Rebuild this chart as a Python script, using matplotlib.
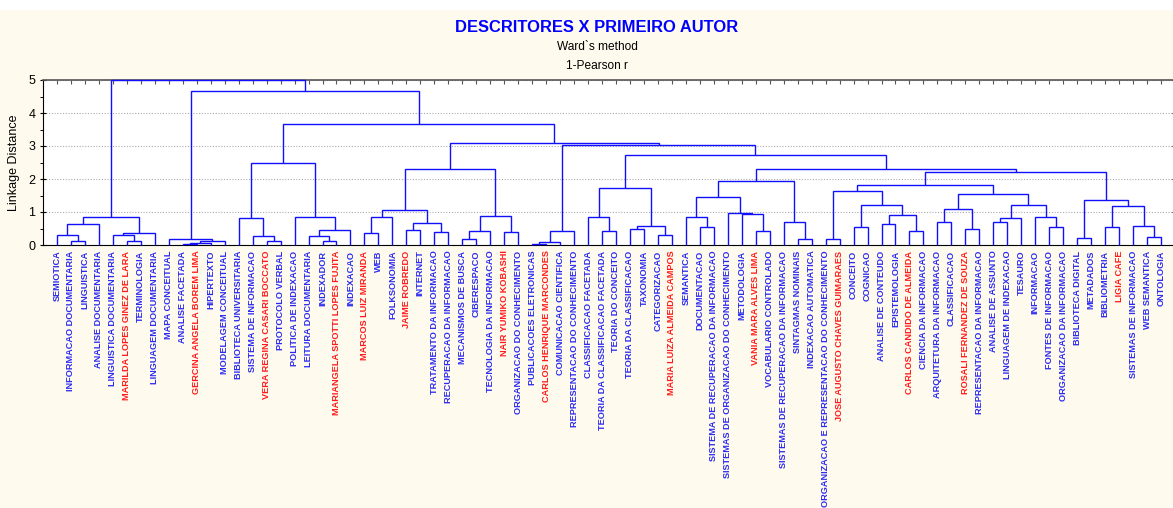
import matplotlib
matplotlib.use("Agg")
import matplotlib.pyplot as plt
from matplotlib.patches import Rectangle
from matplotlib.ticker import MultipleLocator

# ---------------- data ----------------
leaf_labels = [
    "SEMIOTICA", "INFORMACAO DOCUMENTARIA", "LINGUISTICA", "ANALISE DOCUMENTARIA",
    "LINGUISTICA DOCUMENTARIA", "MARILDA LOPES GINEZ DE LARA", "TERMINOLOGIA",
    "LINGUAGEM DOCUMENTARIA", "MAPA CONCEITUAL", "ANALISE FACETADA",
    "GERCINA ANGELA BOREM LIMA", "HIPERTEXTO", "MODELAGEM CONCEITUAL",
    "BIBLIOTECA UNIVERSITARIA", "SISTEMA DE INFORMACAO", "VERA REGINA CASARI BOCCATO",
    "PROTOCOLO VERBAL", "POLITICA DE INDEXACAO", "LEITURA DOCUMENTARIA", "INDEXADOR",
    "MARIANGELA SPOTTI LOPES FUJITA", "INDEXACAO", "MARCOS LUIZ MIRANDA", "WEB",
    "FOLKSONOMIA", "JAIME ROBREDO", "INTERNET", "TRATAMENTO DA INFORMACAO",
    "RECUPERACAO DA INFORMACAO", "MECANISMOS DE BUSCA", "CIBERESPACO",
    "TECNOLOGIA DA INFORMACAO", "NAIR YUMIKO KOBASHI", "ORGANIZACAO DO CONHECIMENTO",
    "PUBLICACOES ELETRONICAS", "CARLOS HENRIQUE MARCONDES", "COMUNICACAO CIENTIFICA",
    "REPRESENTACAO DO CONHECIMENTO", "CLASSIFICACAO FACETADA",
    "TEORIA DA CLASSIFICACAO FACETADA", "TEORIA DO CONCEITO", "TEORIA DA CLASSIFICACAO",
    "TAXONOMIA", "CATEGORIZACAO", "MARIA LUIZA ALMEIDA CAMPOS", "SEMANTICA",
    "DOCUMENTACAO", "SISTEMA DE RECUPERACAO DA INFORMACAO",
    "SISTEMAS DE ORGANIZACAO DO CONHECIMENTO", "METODOLOGIA", "VANIA MARA ALVES LIMA",
    "VOCABULARIO CONTROLADO", "SISTEMAS DE RECUPERACAO DA INFORMACAO",
    "SINTAGMAS NOMINAIS", "INDEXACAO AUTOMATICA",
    "ORGANIZACAO E REPRESENTACAO DO CONHECIMENTO", "JOSE AUGUSTO CHAVES GUIMARAES",
    "CONCEITO", "COGNICAO", "ANALISE DE CONTEUDO", "EPISTEMOLOGIA",
    "CARLOS CANDIDO DE ALMEIDA", "CIENCIA DA INFORMACAO", "ARQUITETURA DA INFORMACAO",
    "CLASSIFICACAO", "ROSALI FERNANDEZ DE SOUZA", "REPRESENTACAO DA INFORMACAO",
    "ANALISE DE ASSUNTO", "LINGUAGEM DE INDEXACAO", "TESAURO", "INFORMACAO",
    "FONTES DE INFORMACAO", "ORGANIZACAO DA INFORMACAO", "BIBLIOTECA DIGITAL",
    "METADADOS", "BIBLIOMETRIA", "LIGIA CAFE", "SISTEMAS DE INFORMACAO",
    "WEB SEMANTICA", "ONTOLOGIA",
]

authors = [
    "MARILDA LOPES GINEZ DE LARA", "GERCINA ANGELA BOREM LIMA",
    "VERA REGINA CASARI BOCCATO", "MARIANGELA SPOTTI LOPES FUJITA",
    "MARCOS LUIZ MIRANDA", "JAIME ROBREDO", "NAIR YUMIKO KOBASHI",
    "CARLOS HENRIQUE MARCONDES", "MARIA LUIZA ALMEIDA CAMPOS", "VANIA MARA ALVES LIMA",
    "JOSE AUGUSTO CHAVES GUIMARAES", "CARLOS CANDIDO DE ALMEIDA",
    "ROSALI FERNANDEZ DE SOUZA", "LIGIA CAFE",
]

# linkage: (left node, right node, linkage distance); leaves 0..79, merges 80..
merges = [
    (1, 2, 0.13), (0, 80, 0.30), (81, 3, 0.64), (5, 6, 0.13), (4, 83, 0.30),
    (84, 7, 0.35), (82, 85, 0.84),
    (9, 10, 0.03), (87, 11, 0.06), (88, 12, 0.13), (8, 89, 0.18),
    (15, 16, 0.13), (14, 91, 0.27), (13, 92, 0.81),
    (19, 20, 0.13), (18, 94, 0.27), (95, 21, 0.46), (17, 96, 0.86), (93, 97, 2.48),
    (22, 23, 0.35), (99, 24, 0.86), (25, 26, 0.46), (27, 28, 0.38), (101, 102, 0.66),
    (100, 103, 1.05),
    (29, 30, 0.17), (105, 31, 0.42), (32, 33, 0.38), (106, 107, 0.88), (104, 108, 2.31),
    (34, 35, 0.03), (110, 36, 0.09), (111, 37, 0.42),
    (39, 40, 0.42), (38, 113, 0.84), (41, 42, 0.49), (43, 44, 0.30), (115, 116, 0.57),
    (114, 117, 1.72),
    (46, 47, 0.56), (45, 119, 0.84), (50, 51, 0.42), (49, 121, 0.95), (48, 122, 0.97),
    (120, 123, 1.44), (53, 54, 0.17), (52, 125, 0.69), (124, 126, 1.93),
    (55, 56, 0.17), (57, 58, 0.54), (59, 60, 0.65), (61, 62, 0.42), (130, 131, 0.92),
    (129, 132, 1.22), (128, 133, 1.65),
    (63, 64, 0.71), (65, 66, 0.49), (135, 136, 1.08), (67, 68, 0.71), (138, 69, 0.83),
    (71, 72, 0.56), (70, 140, 0.85), (139, 141, 1.20), (137, 142, 1.54), (134, 143, 1.81),
    (73, 74, 0.21), (75, 76, 0.56), (78, 79, 0.25), (77, 147, 0.57), (146, 148, 1.17),
    (145, 149, 1.37), (144, 150, 2.20),
    (127, 151, 2.31), (118, 152, 2.74), (112, 153, 3.02), (109, 154, 3.10),
    (98, 155, 3.67), (90, 156, 4.68), (86, 157, 5.00),
]

y_ticks = [0, 1, 2, 3, 4, 5]

# ---------------- figure ----------------
W, H = 1173, 508
bg = "#FFFAEE"
line_blue = "#1010FF"
label_blue = "#2B2BF0"
fig = plt.figure(figsize=(W / 100, H / 100), dpi=100, facecolor=bg)
fig.patches.append(Rectangle((0, 1 - 10 / H), 1, 10 / H, transform=fig.transFigure,
                             facecolor="white", edgecolor="none", zorder=0))

ax = fig.add_axes([43 / W, 1 - 245 / H, 1132 / W, 165 / H])
ax.set_facecolor("white")

n = len(leaf_labels)
pos = {i: i + 1 for i in range(n)}
hgt = {i: 0.0 for i in range(n)}
for k, (a, b, h) in enumerate(merges):
    node = n + k
    xa, xb = pos[a], pos[b]
    ax.plot([xa, xa, xb, xb], [hgt[a], h, h, hgt[b]], color=line_blue, lw=1.0,
            solid_joinstyle="miter", solid_capstyle="butt", clip_on=False, zorder=3)
    pos[node] = (xa + xb) / 2
    hgt[node] = h

ax.set_xlim(0, n + 1)
ax.set_ylim(0, 5)

ax.set_xticks(range(1, n + 1))
ax.set_xticklabels(leaf_labels, rotation=90, fontsize=6.6, family="Liberation Sans",
                   fontweight="bold")
for lbl, name in zip(ax.get_xticklabels(), leaf_labels):
    lbl.set_color("#FF1A1A" if name in authors else label_blue)
ax.tick_params(axis="x", bottom=False, top=True, direction="in", length=3,
               width=0.8, color="#555555", pad=4, labelbottom=True)

ax.set_yticks(y_ticks)
ax.yaxis.set_minor_locator(MultipleLocator(0.5))
ax.tick_params(axis="y", which="major", left=True, right=True, direction="inout",
               length=5, width=0.8, labelsize=9, labelcolor="black", pad=3)
ax.tick_params(axis="y", which="minor", left=True, right=False, direction="out",
               length=2, width=0.7)
for t in ax.get_yticklabels():
    t.set_family("Liberation Sans")

ax.grid(axis="y", which="major", color="#AAAAAA", linestyle=(0, (1, 1.5)), lw=0.8, zorder=0)
ax.spines["top"].set_color("#555555")
ax.spines["top"].set_linewidth(1.2)
ax.spines["bottom"].set_color("black")
ax.spines["left"].set_color("black")
ax.spines["right"].set_visible(False)

ax.set_ylabel("Linkage Distance", fontsize=9, family="Liberation Sans", labelpad=6)

fig.text(597 / W, 1 - 27 / H, "DESCRITORES X PRIMEIRO AUTOR", ha="center", va="center",
         fontsize=11.9, fontweight="bold", color="#0000FF", family="Liberation Sans")
fig.text(597 / W, 1 - 47 / H, "Ward`s method", ha="center", va="center",
         fontsize=8.6, color="black", family="Liberation Sans")
fig.text(597 / W, 1 - 66 / H, "1-Pearson r", ha="center", va="center",
         fontsize=8.6, color="black", family="Liberation Sans")

fig.savefig("out.png", dpi=100, facecolor=bg)
